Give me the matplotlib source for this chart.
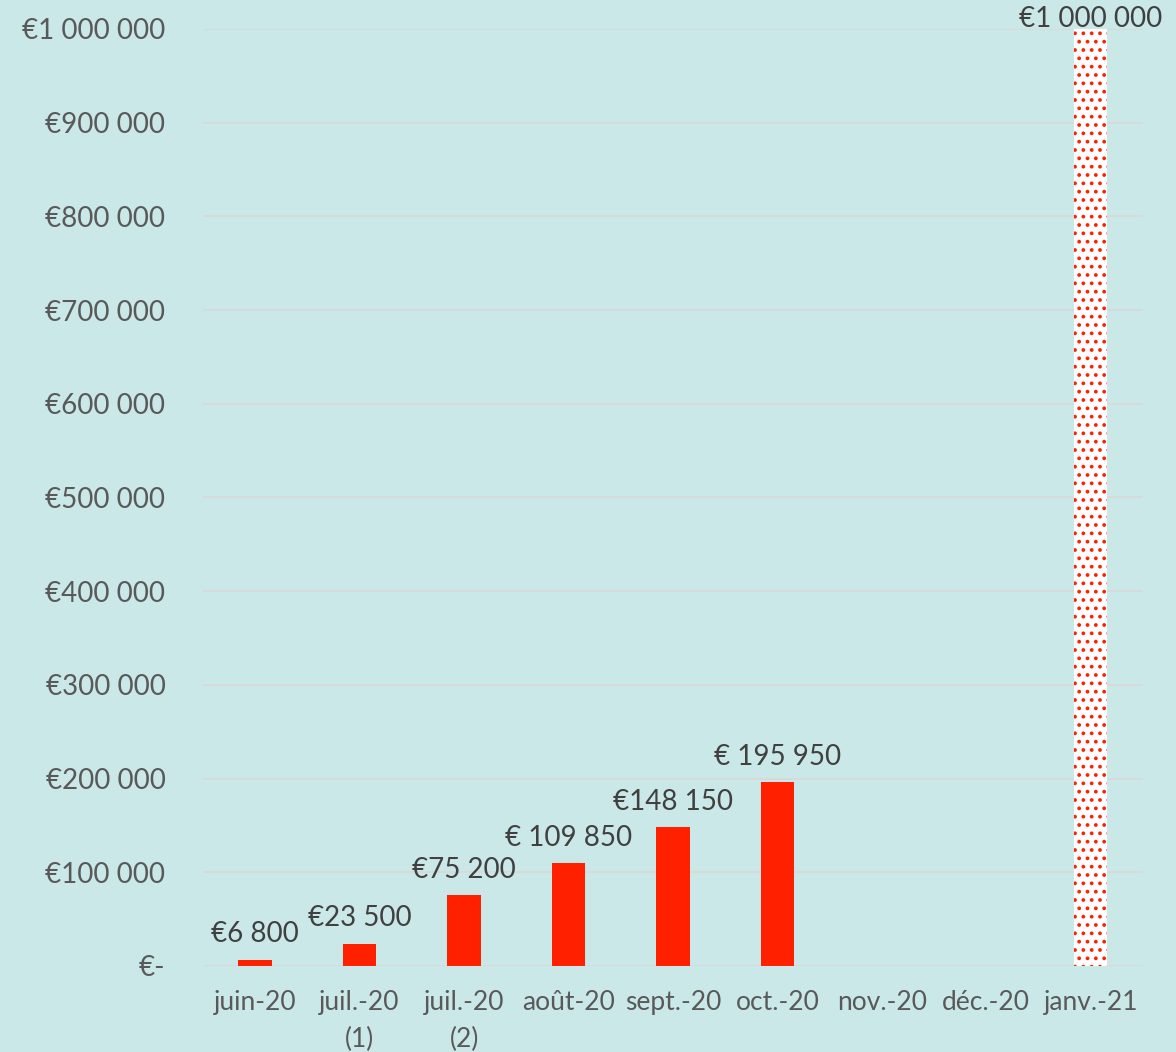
import matplotlib
matplotlib.use("Agg")
import matplotlib.pyplot as plt
from matplotlib.ticker import FuncFormatter

categories = ["juin-20", "juil.-20\n(1)", "juil.-20\n(2)", "août-20", "sept.-20",
              "oct.-20", "nov.-20", "déc.-20", "janv.-21"]
values = [6800, 23500, 75200, 109850, 148150, 195950, 0, 0, 1000000]
labels = ["€6 800", "€23 500", "€75 200", "€ 109 850", "€148 150",
          "€ 195 950", "", "", "€1 000 000"]
target_idx = 8  # objectif, drawn dotted

plt.rcParams["font.family"] = ["Lato", "DejaVu Sans"]
plt.rcParams["hatch.linewidth"] = 1.5

bg = "#CBE8E8"
red = "#FF2000"

fig = plt.figure(figsize=(11.76, 10.52), dpi=100, facecolor=bg)
ax = fig.add_axes([0.1726, 0.0818, 0.7993, 0.8907], facecolor=bg)

x = list(range(len(categories)))
for i, v in enumerate(values):
    if i == target_idx:
        ax.bar(i, v, width=0.32, color="white", edgecolor=red, hatch="..",
               linewidth=0, zorder=3)
    else:
        ax.bar(i, v, width=0.32, color=red, linewidth=0, zorder=3)

for i, (v, lab) in enumerate(zip(values, labels)):
    if not lab:
        continue
    if i == target_idx:
        # label sits over the top of the tall bar, as in the original
        ax.annotate(lab, (i, v), xytext=(0, 7), textcoords="offset points",
                    ha="center", va="center", fontsize=20, color="#404040",
                    annotation_clip=False, zorder=4)
    else:
        ax.annotate(lab, (i, v), xytext=(0, 9), textcoords="offset points",
                    ha="center", va="bottom", fontsize=20, color="#404040",
                    annotation_clip=False, zorder=4)

ax.set_xlim(-0.5, len(categories) - 0.5)
ax.set_ylim(0, 1000000)
ax.set_yticks(range(0, 1000001, 100000))


def fmt(v, pos):
    if v == 0:
        return "€-"
    return "€" + f"{int(v):,}".replace(",", " ")


ax.yaxis.set_major_formatter(FuncFormatter(fmt))
ax.set_xticks(x)
ax.set_xticklabels(categories, linespacing=1.6)
ax.tick_params(axis="both", length=0, labelcolor="#595959")
ax.tick_params(axis="x", pad=17, labelsize=19)
ax.tick_params(axis="y", pad=27, labelsize=20)
ax.grid(axis="y", color="#D9D9D9", linewidth=1.3, zorder=0)
for s in ax.spines.values():
    s.set_visible(False)

fig.savefig("out.png", dpi=100, facecolor=bg)
